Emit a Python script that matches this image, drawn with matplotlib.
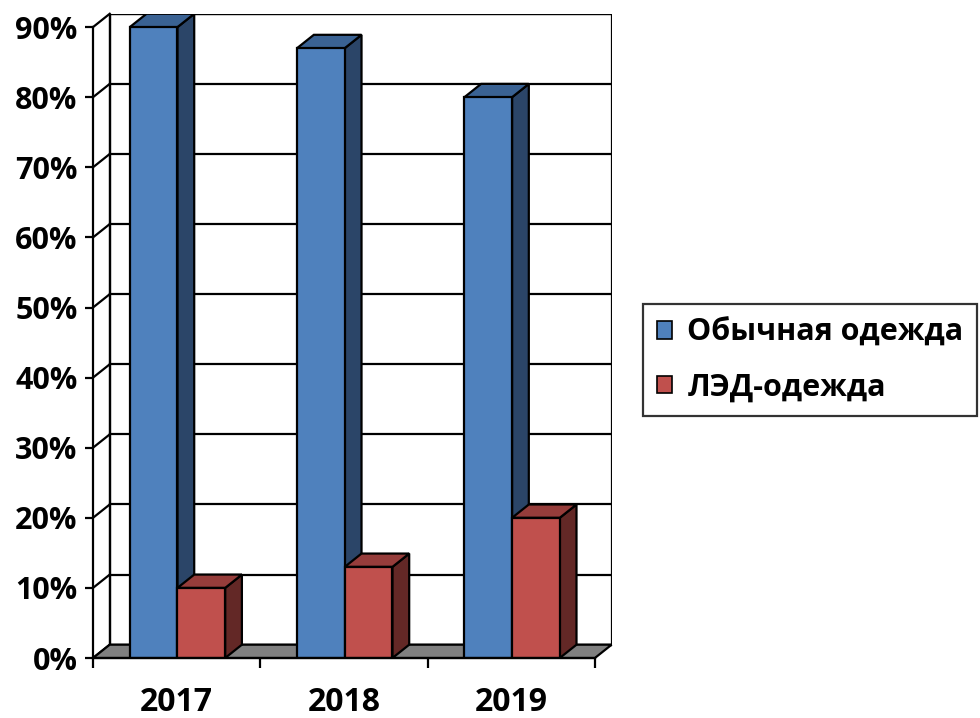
import matplotlib.pyplot as plt
from matplotlib.patches import Polygon, Patch

years = ['2017', '2018', '2019']
regular = [90, 87, 80]
led = [10, 13, 20]
series_names = ['Обычная одежда', 'ЛЭД-одежда']
y_ticks = [0, 10, 20, 30, 40, 50, 60, 70, 80, 90]

# colours: front, top, side
blue = ('#4F81BD', '#3A6293', '#2B4568')
red = ('#C0504D', '#963D3B', '#632826')

plt.rcParams['font.family'] = ['Open Sans', 'DejaVu Sans']
plt.rcParams['font.weight'] = 'bold'

dx, dy = 0.1, 1.9      # oblique depth, data units
bw = 0.285             # bar width
x0 = 0.22              # first bar offset inside a category
lw = 1.6

fig = plt.figure(figsize=(9.8, 7.18), dpi=100)
ax = fig.add_axes([93 / 980, 60 / 718, (3 + dx) * 167.3 / 980, (90 + dy) * 7.01 / 718])
ax.set_xlim(0, 3 + dx)
ax.set_ylim(0, 90 + dy)
for s in ax.spines.values():
    s.set_visible(False)

# back wall + gridlines
ax.add_patch(Polygon([(dx, dy), (3 + dx, dy), (3 + dx, 90 + dy), (dx, 90 + dy)],
                     closed=True, fc='white', ec='black', lw=lw, zorder=1))
for v in y_ticks:
    ax.plot([dx, 3 + dx], [v + dy, v + dy], color='black', lw=lw, zorder=1)
    ax.plot([0, dx], [v, v + dy], color='black', lw=lw, zorder=1, clip_on=False)
ax.plot([0, 0], [0, 90], color='black', lw=lw, zorder=1, clip_on=False)
ax.plot([dx, dx], [dy, 90 + dy], color='black', lw=lw, zorder=1)

# floor
ax.add_patch(Polygon([(0, 0), (3, 0), (3 + dx, dy), (dx, dy)], closed=True,
                     fc='#808080', ec='black', lw=lw, zorder=2, clip_on=False))


def bar3d(left, h, cols):
    r = left + bw
    ax.add_patch(Polygon([(r, 0), (r + dx, dy), (r + dx, h + dy), (r, h)],
                         closed=True, fc=cols[2], ec='black', lw=lw, zorder=3))
    ax.add_patch(Polygon([(left, h), (r, h), (r + dx, h + dy), (left + dx, h + dy)],
                         closed=True, fc=cols[1], ec='black', lw=lw, zorder=3))


for i in range(len(years)):
    bar3d(i + x0, regular[i], blue)
    ax.bar(i + x0, regular[i], bw, align='edge', color=blue[0], ec='black', lw=lw, zorder=3)
    bar3d(i + x0 + bw, led[i], red)
    ax.bar(i + x0 + bw, led[i], bw, align='edge', color=red[0], ec='black', lw=lw, zorder=3)

# front x axis line
ax.plot([0, 3], [0, 0], color='black', lw=lw, zorder=4, clip_on=False)

ax.set_yticks(y_ticks)
ax.set_yticklabels([f'{v}%' for v in y_ticks], fontsize=22, fontweight='bold')
ax.set_xticks([0, 1, 2, 3])
ax.set_xticklabels([])
ax.set_xticks([0.5, 1.5, 2.5], minor=True)
ax.set_xticklabels(years, minor=True, fontsize=23, fontweight='bold')
ax.tick_params(axis='y', length=6, width=lw, pad=5)
ax.tick_params(axis='x', which='major', length=7, width=lw)
ax.tick_params(axis='x', which='minor', length=0, pad=20)

handles = [Patch(fc=blue[0], ec='black', lw=1.2), Patch(fc=red[0], ec='black', lw=1.2)]
leg = fig.legend(handles, series_names, loc='upper left', bbox_to_anchor=(643 / 980, 1 - 304 / 718),
                 borderaxespad=0, prop={'weight': 'bold', 'size': 22},
                 handlelength=0.5, handleheight=0.5, handletextpad=0.5,
                 labelspacing=0.8, borderpad=0.45, fancybox=False)
leg.get_frame().set_edgecolor('black')
leg.get_frame().set_linewidth(lw)

fig.savefig('out.png', dpi=100)
